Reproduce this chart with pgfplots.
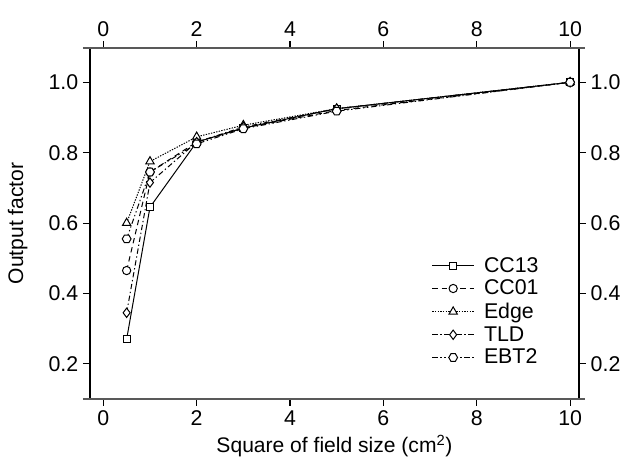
\documentclass[border=0pt]{standalone}
\usepackage{fontspec}
\setmainfont{Liberation Sans}
\usepackage{pgfplots}
\pgfplotsset{compat=1.18}
\pgfdeclareplotmark{hexagon}{%
  \pgfpathmoveto{\pgfqpointpolar{0}{\pgfplotmarksize}}%
  \pgfpathlineto{\pgfqpointpolar{60}{\pgfplotmarksize}}%
  \pgfpathlineto{\pgfqpointpolar{120}{\pgfplotmarksize}}%
  \pgfpathlineto{\pgfqpointpolar{180}{\pgfplotmarksize}}%
  \pgfpathlineto{\pgfqpointpolar{240}{\pgfplotmarksize}}%
  \pgfpathlineto{\pgfqpointpolar{300}{\pgfplotmarksize}}%
  \pgfpathclose\pgfusepathqfillstroke}
\begin{document}
\begin{tikzpicture}
\useasboundingbox (-67.5pt,-50.25pt) rectangle (402pt,299.25pt);
\pgfplotsset{
  common/.style={
    at={(0,0)}, anchor=south west,
    scale only axis, width=366.75pt, height=263.25pt,
    xmin=-0.285, xmax=10.19, ymin=0.1, ymax=1.0975,
    xtick={0,2,4,6,8,10}, ytick={0.2,0.4,0.6,0.8,1.0},
    yticklabel style={/pgf/number format/.cd, fixed, fixed zerofill, precision=1},
    /pgf/number format/assume math mode=true,
    tick label style={font=\fontsize{16}{19}\selectfont},
    label style={font=\fontsize{15.8}{19}\selectfont},
    tick align=outside, major tick length=5.25pt,
    axis line style={draw=none},
    clip=false,
  }
}
\begin{axis}[common,
  tick pos=both, xticklabel pos=lower, yticklabel pos=left,
  major tick style={black, line width=0.8pt},
  xlabel={Square of field size (cm\textsuperscript{2})},
  ylabel={Output factor},
  ylabel shift=9pt,
  legend style={draw=none, fill=none, at={(0.69,0.42)}, anchor=north west,
    font=\fontsize{16}{19}\selectfont, row sep=0.5pt, column sep=5pt},
  legend cell align=left,
  legend image code/.code={\draw[mark repeat=2,mark phase=2] plot coordinates {(0pt,0pt) (15.75pt,0pt) (31.5pt,0pt)};},
  every axis plot/.append style={black, line width=0.75pt, mark options={solid, fill=white}},
]
\addplot[solid, mark=square*, mark size=2.6pt] coordinates {(0.5,0.27) (1,0.645) (2,0.83) (3,0.87) (5,0.925) (10,1.0)};
\addlegendentry{CC13}
\addplot[dash pattern=on 4pt off 3pt, mark=*, mark size=3.1pt] coordinates {(0.5,0.465) (1,0.745) (2,0.83) (3,0.87) (5,0.92) (10,1.0)};
\addlegendentry{CC01}
\addplot[dash pattern=on 1pt off 1pt, mark=triangle*, mark size=3.6pt] coordinates {(0.5,0.60) (1,0.775) (2,0.845) (3,0.878) (5,0.925) (10,1.0)};
\addlegendentry{Edge}
\addplot[dash pattern=on 4pt off 2pt on 1pt off 2pt, mark=diamond*, mark size=3.5pt] coordinates {(0.5,0.345) (1,0.715) (2,0.83) (3,0.873) (5,0.925) (10,1.0)};
\addlegendentry{TLD}
\addplot[dash pattern=on 4pt off 2pt on 1pt off 2pt on 1pt off 2pt, mark=hexagon, mark size=3.3pt] coordinates {(0.5,0.555) (1,0.745) (2,0.825) (3,0.868) (5,0.918) (10,1.0)};
\addlegendentry{EBT2}
\draw[black, line width=0.9pt] (rel axis cs:0,0) -- (rel axis cs:0,1);
\draw[black, line width=0.9pt] (rel axis cs:1,0) -- (rel axis cs:1,1);
\draw[black!65, line width=1.4pt] ([xshift=-5.25pt]rel axis cs:0,0) -- ([xshift=4.5pt]rel axis cs:1,0);
\draw[black!65, line width=1.4pt] ([xshift=-5.25pt]rel axis cs:0,1) -- ([xshift=4.5pt]rel axis cs:1,1);
\end{axis}
\begin{axis}[common,
  tick pos=both, xticklabel pos=upper, yticklabel pos=right,
  major tick style={draw=none},
]
\end{axis}
\end{tikzpicture}
\end{document}
